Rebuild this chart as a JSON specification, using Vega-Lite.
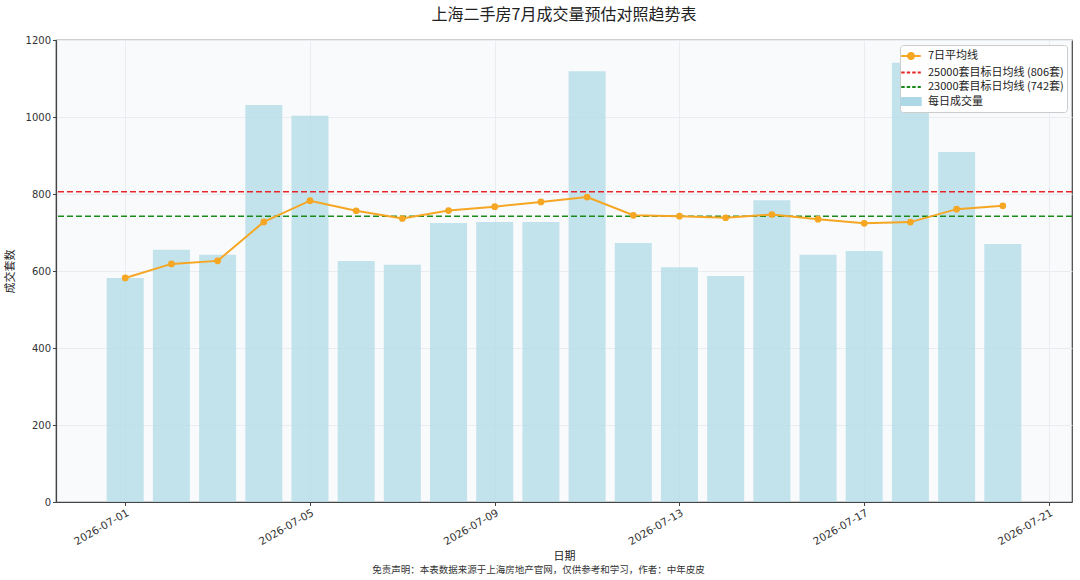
{
  "$schema": "https://vega.github.io/schema/vega-lite/v6.json",
  "background": "white",
  "padding": {"left": 3, "right": 6, "top": 6, "bottom": 2},
  "title": {
    "text": "免责声明：本表数据来源于上海房地产官网，仅供参考和学习，作者：中年皮皮",
    "orient": "bottom", "anchor": "middle", "frame": "bounds",
    "font": "Noto Sans CJK SC", "fontSize": 9.5, "fontWeight": "normal", "color": "#333", "offset": 3
  },
  "datasets": {
    "daily": [
      {"date": "2026-07-01", "volume": 582, "ma7": 582.0},
      {"date": "2026-07-02", "volume": 655, "ma7": 618.5},
      {"date": "2026-07-03", "volume": 642, "ma7": 626.3},
      {"date": "2026-07-04", "volume": 1031, "ma7": 727.5},
      {"date": "2026-07-05", "volume": 1003, "ma7": 782.6},
      {"date": "2026-07-06", "volume": 626, "ma7": 756.5},
      {"date": "2026-07-07", "volume": 616, "ma7": 736.4},
      {"date": "2026-07-08", "volume": 725, "ma7": 756.9},
      {"date": "2026-07-09", "volume": 727, "ma7": 767.1},
      {"date": "2026-07-10", "volume": 727, "ma7": 779.3},
      {"date": "2026-07-11", "volume": 1119, "ma7": 791.9},
      {"date": "2026-07-12", "volume": 673, "ma7": 744.7},
      {"date": "2026-07-13", "volume": 610, "ma7": 742.4},
      {"date": "2026-07-14", "volume": 587, "ma7": 738.3},
      {"date": "2026-07-15", "volume": 784, "ma7": 746.7},
      {"date": "2026-07-16", "volume": 642, "ma7": 734.6},
      {"date": "2026-07-17", "volume": 652, "ma7": 723.9},
      {"date": "2026-07-18", "volume": 1141, "ma7": 727.0},
      {"date": "2026-07-19", "volume": 909, "ma7": 760.7},
      {"date": "2026-07-20", "volume": 670, "ma7": 769.3}
    ],
    "targets": [
      {"label": "25000套目标日均线 (806套)", "value": 806},
      {"label": "23000套目标日均线 (742套)", "value": 742}
    ]
  },
  "vconcat": [
    {
      "title": {
        "text": "上海二手房7月成交量预估对照趋势表",
        "font": "Noto Sans CJK SC", "fontSize": 16, "fontWeight": "normal", "color": "#222",
        "anchor": "middle", "offset": 12
      },
      "width": 1016,
      "height": 462,
      "layer": [
        {
          "data": {"name": "daily"},
          "mark": {"type": "bar", "width": 37, "opacity": 0.7},
          "encoding": {
            "x": {
              "field": "date", "type": "temporal", "title": "日期",
              "scale": {
                "type": "utc",
                "domain": [
                  {"year": 2026, "month": 6, "date": 29, "hours": 14, "minutes": 38, "utc": true},
                  {"year": 2026, "month": 7, "date": 21, "hours": 9, "minutes": 22, "utc": true}
                ]
              },
              "axis": {
                "values": [
                  {"year": 2026, "month": 7, "date": 1, "utc": true},
                  {"year": 2026, "month": 7, "date": 5, "utc": true},
                  {"year": 2026, "month": 7, "date": 9, "utc": true},
                  {"year": 2026, "month": 7, "date": 13, "utc": true},
                  {"year": 2026, "month": 7, "date": 17, "utc": true},
                  {"year": 2026, "month": 7, "date": 21, "utc": true}
                ],
                "labelExpr": "utcFormat(datum.value, '%Y-%m-%d')",
                "labelAngle": -30, "labelAlign": "right", "labelBaseline": "top", "labelFontSize": 10.5,
                "titlePadding": 3
              }
            },
            "y": {
              "field": "volume", "type": "quantitative", "title": "成交套数",
              "scale": {"domain": [0, 1200], "nice": false},
              "axis": {"values": [0, 200, 400, 600, 800, 1000, 1200], "format": "d", "titlePadding": 10}
            },
            "color": {
              "datum": "每日成交量", "type": "nominal",
              "scale": {
                "domain": ["7日平均线", "25000套目标日均线 (806套)", "23000套目标日均线 (742套)", "每日成交量"],
                "range": ["#f5a623", "#e8262a", "#1a8a1a", "#add8e6"]
              },
              "legend": {
                "title": null, "orient": "top-right", "offset": 5,
                "fillColor": "#ffffff", "strokeColor": "#cccccc", "cornerRadius": 3, "padding": 3,
                "labelFont": "Noto Sans CJK SC", "labelFontSize": 11, "labelColor": "#222",
                "symbolSize": 196, "labelOffset": 9, "rowPadding": 1.5,
                "encode": {
                  "symbols": {
                    "update": {
                      "shape": {"signal": "datum.index == 0 ? 'M-1.4,0H1.4M0.45,0A0.45,0.45 0 1,1 -0.45,0A0.45,0.45 0 1,1 0.45,0Z' : datum.index == 3 ? 'M-1.4,-0.5H1.4V0.5H-1.4Z' : 'M-1.4,0H1.4'"},
                      "fill": {"signal": "datum.index == 0 ? '#f5a623' : datum.index == 3 ? '#c6e4ee' : 'transparent'"},
                      "stroke": {"signal": "datum.index == 0 ? '#f5a623' : datum.index == 1 ? '#e8262a' : datum.index == 2 ? '#1a8a1a' : 'transparent'"},
                      "strokeDash": {"signal": "datum.index == 1 || datum.index == 2 ? [3.5, 2] : [1, 0]"},
                      "strokeWidth": {"value": 1.8},
                      "opacity": {"value": 1},
                      "fillOpacity": {"value": 1},
                      "strokeOpacity": {"value": 1}
                    }
                  }
                }
              }
            }
          }
        },
        {
          "data": {"name": "targets"},
          "mark": {"type": "rule", "strokeDash": [6, 3], "strokeWidth": 1.5},
          "encoding": {
            "y": {"field": "value", "type": "quantitative", "title": "成交套数"},
            "color": {
              "field": "label", "type": "nominal",
              "legend": {
                "title": null, "orient": "top-right", "offset": 5,
                "fillColor": "#ffffff", "strokeColor": "#cccccc", "cornerRadius": 3, "padding": 3,
                "labelFont": "Noto Sans CJK SC", "labelFontSize": 11, "labelColor": "#222",
                "symbolSize": 196, "labelOffset": 9, "rowPadding": 1.5,
                "encode": {
                  "symbols": {
                    "update": {
                      "shape": {"signal": "datum.index == 0 ? 'M-1.4,0H1.4M0.45,0A0.45,0.45 0 1,1 -0.45,0A0.45,0.45 0 1,1 0.45,0Z' : datum.index == 3 ? 'M-1.4,-0.5H1.4V0.5H-1.4Z' : 'M-1.4,0H1.4'"},
                      "fill": {"signal": "datum.index == 0 ? '#f5a623' : datum.index == 3 ? '#c6e4ee' : 'transparent'"},
                      "stroke": {"signal": "datum.index == 0 ? '#f5a623' : datum.index == 1 ? '#e8262a' : datum.index == 2 ? '#1a8a1a' : 'transparent'"},
                      "strokeDash": {"signal": "datum.index == 1 || datum.index == 2 ? [3.5, 2] : [1, 0]"},
                      "strokeWidth": {"value": 1.8},
                      "opacity": {"value": 1},
                      "fillOpacity": {"value": 1},
                      "strokeOpacity": {"value": 1}
                    }
                  }
                }
              }
            }
          }
        },
        {
          "data": {"name": "daily"},
          "mark": {"type": "line", "strokeWidth": 2, "point": {"filled": true, "size": 45}},
          "encoding": {
            "x": {
              "field": "date", "type": "temporal", "title": "日期",
              "axis": {
                "values": [
                  {"year": 2026, "month": 7, "date": 1, "utc": true},
                  {"year": 2026, "month": 7, "date": 5, "utc": true},
                  {"year": 2026, "month": 7, "date": 9, "utc": true},
                  {"year": 2026, "month": 7, "date": 13, "utc": true},
                  {"year": 2026, "month": 7, "date": 17, "utc": true},
                  {"year": 2026, "month": 7, "date": 21, "utc": true}
                ],
                "labelExpr": "utcFormat(datum.value, '%Y-%m-%d')",
                "labelAngle": -30, "labelAlign": "right", "labelBaseline": "top", "labelFontSize": 10.5,
                "titlePadding": 3
              }
            },
            "y": {"field": "ma7", "type": "quantitative", "title": "成交套数"},
            "color": {"datum": "7日平均线", "type": "nominal"}
          }
        }
      ]
    }
  ],
  "config": {
    "view": {"fill": "#f8fafc", "stroke": "#444444", "strokeWidth": 1.2},
    "axis": {
      "labelFont": "DejaVu Sans", "labelFontSize": 10, "labelColor": "#333",
      "tickColor": "#444444", "tickSize": 3.5, "labelPadding": 2,
      "domainColor": "#444444", "domainWidth": 1.2,
      "gridColor": "#e9edf2", "grid": true,
      "titleFont": "Noto Sans CJK SC", "titleFontSize": 11, "titleFontWeight": "normal", "titleColor": "#222"
    }
  }
}
